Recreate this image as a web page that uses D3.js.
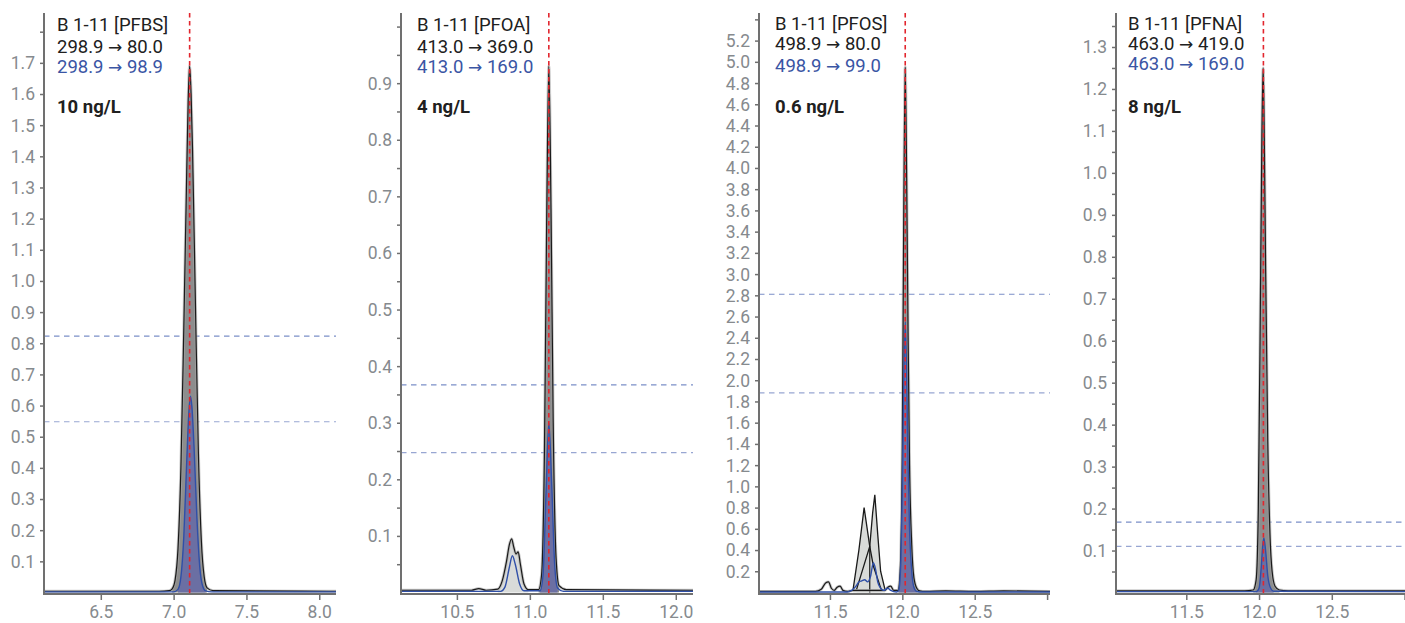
<!DOCTYPE html>
<html>
<head>
<meta charset="utf-8">
<script src="https://cdn.jsdelivr.net/npm/d3@7"></script>
<style>
body{margin:0;background:#fff;}
text{font-family:Roboto,"Noto Sans",sans-serif;}
</style>
</head>
<body>
<div id="chart-area"></div>
<script>
//main.js

//----- data -----
var sampleNames = ["B 1-11 [PFBS]", "B 1-11 [PFOA]", "B 1-11 [PFOS]", "B 1-11 [PFNA]"];
var quantIons = [["298.9", "80.0"], ["413.0", "369.0"], ["498.9", "80.0"], ["463.0", "419.0"]];
var qualIons = [["298.9", "98.9"], ["413.0", "169.0"], ["498.9", "99.0"], ["463.0", "169.0"]];
var levels = ["10 ng/L", "4 ng/L", "0.6 ng/L", "8 ng/L"];
var retTimes = [7.11, 11.13, 12.02, 12.03]; //expected RT (red dashed)
var ratioLimits = [[0.823, 0.548], [0.367, 0.247], [2.81, 1.88], [0.1675, 0.110]]; //qualifier ratio window

//x / y domains (minutes, counts x10^n)
var xDomains = [[6.11, 8.115], [10.117, 12.118], [11.01, 13.02], [11.017, 13.003]];
var yMaxes = [1.86, 1.024, 5.46, 1.381];

//tick values and labels
var xTicks = [[6.5, 7.0, 7.5, 8.0], [10.5, 11.0, 11.5, 12.0], [11.5, 12.0, 12.5, 13.0], [11.5, 12.0, 12.5, 13.0]];
var xLabels = [[6.5, 7.0, 7.5, 8.0], [10.5, 11.0, 11.5, 12.0], [11.5, 12.0, 12.5], [11.5, 12.0, 12.5]];
var yTickSteps = [0.1, 0.05, 0.2, 0.05];
var yTickTops = [1.8, 1.0, 5.4, 1.35];
var yLabels = [
    [0.1, 0.2, 0.3, 0.4, 0.5, 0.6, 0.7, 0.8, 0.9, 1.0, 1.1, 1.2, 1.3, 1.4, 1.5, 1.6, 1.7],
    [0.1, 0.2, 0.3, 0.4, 0.5, 0.6, 0.7, 0.8, 0.9],
    [0.2, 0.4, 0.6, 0.8, 1.0, 1.2, 1.4, 1.6, 1.8, 2.0, 2.2, 2.4, 2.6, 2.8, 3.0, 3.2, 3.4, 3.6, 3.8, 4.0, 4.2, 4.4, 4.6, 4.8, 5.0, 5.2],
    [0.1, 0.2, 0.3, 0.4, 0.5, 0.6, 0.7, 0.8, 0.9, 1.0, 1.1, 1.2, 1.3]
];

//quantifier traces [rt, intensity]
var pfbsQuant = [[6.11,0.004],[6.90,0.004],[6.97,0.006],[6.99,0.012],[7.01,0.04],[7.03,0.14],[7.05,0.40],[7.07,0.85],[7.09,1.35],[7.10,1.58],[7.11,1.69],[7.12,1.60],[7.13,1.42],[7.15,0.92],[7.17,0.45],[7.19,0.17],[7.21,0.05],[7.23,0.015],[7.27,0.006],[8.115,0.004]];
var pfoaQuant = [[10.117,0.004],[10.60,0.004],[10.65,0.007],[10.70,0.004],[10.78,0.006],[10.81,0.02],[10.84,0.055],[10.86,0.085],[10.875,0.095],[10.89,0.08],[10.905,0.068],[10.92,0.072],[10.935,0.05],[10.96,0.015],[10.99,0.005],[11.06,0.005],[11.08,0.03],[11.10,0.25],[11.115,0.65],[11.13,0.93],[11.145,0.68],[11.16,0.3],[11.18,0.06],[11.20,0.012],[11.25,0.005],[12.118,0.004]];
var pfosQuant = [[11.01,0.01],[11.40,0.01],[11.44,0.03],[11.47,0.09],[11.49,0.10],[11.51,0.04],[11.53,0.02],[11.55,0.05],[11.57,0.06],[11.59,0.02],[11.62,0.01],[11.66,0.02],[11.88,0.02],[11.90,0.05],[11.92,0.06],[11.94,0.02],[11.97,0.02],[11.985,0.2],[12.00,1.4],[12.01,3.6],[12.02,4.95],[12.03,3.9],[12.04,2.4],[12.05,1.2],[12.065,0.45],[12.08,0.14],[12.10,0.04],[12.12,0.015],[12.16,0.01],[12.3,0.015],[12.5,0.01],[12.7,0.015],[13.02,0.01]];
var pfnaQuant = [[11.017,0.004],[11.90,0.004],[11.96,0.006],[11.98,0.03],[11.995,0.2],[12.01,0.72],[12.02,1.1],[12.028,1.25],[12.035,1.12],[12.045,0.78],[12.06,0.36],[12.075,0.14],[12.09,0.05],[12.11,0.015],[12.14,0.006],[12.2,0.004],[13.003,0.004]];

//qualifier traces
var pfbsQual = [[6.11,0.002],[7.00,0.002],[7.03,0.01],[7.05,0.05],[7.07,0.18],[7.09,0.42],[7.105,0.58],[7.115,0.63],[7.125,0.60],[7.14,0.47],[7.16,0.24],[7.18,0.08],[7.20,0.02],[7.22,0.005],[7.26,0.002],[8.115,0.002]];
var pfoaQual = [[10.117,0.002],[10.80,0.002],[10.83,0.01],[10.86,0.045],[10.88,0.065],[10.90,0.05],[10.93,0.015],[10.96,0.003],[11.07,0.003],[11.09,0.03],[11.11,0.17],[11.13,0.30],[11.15,0.19],[11.17,0.05],[11.19,0.008],[11.23,0.002],[12.118,0.002]];
var pfosQual = [[11.01,0.005],[11.62,0.005],[11.65,0.02],[11.68,0.06],[11.70,0.10],[11.72,0.11],[11.74,0.12],[11.76,0.10],[11.78,0.15],[11.80,0.28],[11.815,0.22],[11.83,0.10],[11.85,0.04],[11.87,0.02],[11.90,0.04],[11.92,0.02],[11.96,0.005],[11.975,0.02],[11.99,0.3],[12.00,0.95],[12.01,2.0],[12.02,2.55],[12.03,2.05],[12.04,1.2],[12.05,0.6],[12.065,0.2],[12.08,0.05],[12.10,0.01],[12.14,0.005],[13.02,0.005]];
var pfnaQual = [[11.017,0.002],[11.98,0.002],[12.00,0.01],[12.015,0.06],[12.025,0.11],[12.033,0.13],[12.045,0.10],[12.06,0.04],[12.08,0.01],[12.10,0.003],[13.003,0.002]];

//branched PFOS isomers (integrated separately)
var pfosBranchA = [[11.66,0.03],[11.70,0.40],[11.72,0.62],[11.736,0.80],[11.775,0.435],[11.80,0.25],[11.856,0.02]];
var pfosBranchB = [[11.684,0.03],[11.775,0.435],[11.795,0.75],[11.81,0.92],[11.83,0.55],[11.85,0.2],[11.88,0.03]];
var pfosDrop = [11.775, 0.435];

var quantTraces = [pfbsQuant, pfoaQuant, pfosQuant, pfnaQuant];
var qualTraces = [pfbsQual, pfoaQual, pfosQual, pfnaQual];

//integration windows [start, end, type]
var quantWindows = [[[6.99, 7.23, "main"]], [[10.78, 10.99, "minor"], [11.06, 11.20, "main"]], [[11.97, 12.12, "main"]], [[11.96, 12.14, "main"]]];
var qualWindows = [[[7.03, 7.22]], [[11.07, 11.19]], [[11.975, 12.10]], [[11.98, 12.10]]];

//----- layout -----
var W = 1405, H = 623,
    plotTop = 13, zeroY = 592.5; //"top" is taken by window.top
var panelX = [[44, 336], [401, 693], [759, 1050], [1116, 1405]];
var textX = [57, 417, 775, 1128];
var textY = [[31, 52.5, 73], [31, 52.5, 73], [30, 50, 71.5], [29.5, 50, 70]];

var colors = {
    axis: "#707070", tick: "#868a8e", text: "#202020", blue: "#3a55a4",
    mainFill: "#8d8d8d", minorFill: "#d9dbd9", qualFill: "#6b6fa3",
    qualLine: "#2f4fa8", red: "#e2262e", ratioUp: "#7b8fc8", ratioLo: "#98a6d2"
};

var svg = d3.select("#chart-area")
    .append("svg")
        .attr("width", W)
        .attr("height", H);

var fmt = d3.format(".1f");

//draw each chromatogram
for (var i = 0; i < 4; i++) drawPanel(i);

function drawPanel(i) {
    var g = svg.append("g");
    var x = d3.scaleLinear().domain(xDomains[i]).range(panelX[i]);
    var y = d3.scaleLinear().domain([0, yMaxes[i]]).range([zeroY, plotTop]);

    var line = d3.line().x(d => x(d[0])).y(d => y(d[1])).curve(d3.curveMonotoneX);
    var area = d3.area().x(d => x(d[0])).y0(y(0)).y1(d => y(d[1])).curve(d3.curveMonotoneX);
    var lineLin = d3.line().x(d => x(d[0])).y(d => y(d[1]));
    var areaLin = d3.area().x(d => x(d[0])).y0(y(0)).y1(d => y(d[1]));

    function inWin(pts, w) { return pts.filter(p => p[0] >= w[0] - 1e-9 && p[0] <= w[1] + 1e-9); }

    //ratio limit dashed lines
    ratioLimits[i].forEach((v, k) => {
        g.append("line")
            .attr("x1", panelX[i][0]).attr("x2", panelX[i][1])
            .attr("y1", y(v)).attr("y2", y(v))
            .attr("stroke", k == 0 ? colors.ratioUp : colors.ratioLo)
            .attr("stroke-width", 1.2)
            .attr("stroke-dasharray", "5.5,4.5");
    });

    //quantifier fills
    quantWindows[i].forEach(w => {
        g.append("path")
            .attr("d", area(inWin(quantTraces[i], w)))
            .attr("fill", w[2] == "main" ? colors.mainFill : colors.minorFill);
    });

    //branched isomers (PFOS)
    if (i == 2) {
        [pfosBranchA, pfosBranchB].forEach(b => {
            g.append("path").attr("d", areaLin(b)).attr("fill", colors.minorFill);
        });
        [pfosBranchA, pfosBranchB].forEach(b => {
            g.append("path").attr("d", lineLin(b))
                .attr("fill", "none").attr("stroke", "#1a1a1a").attr("stroke-width", 1.3);
        });
        g.append("line")
            .attr("x1", x(pfosDrop[0])).attr("x2", x(pfosDrop[0]))
            .attr("y1", y(0)).attr("y2", y(pfosDrop[1]))
            .attr("stroke", "#1a1a1a").attr("stroke-width", 1.2);
    }

    //quantifier line (halo + black)
    g.append("path").attr("d", line(quantTraces[i]))
        .attr("fill", "none").attr("stroke", "#a8a8a8").attr("stroke-width", 3).attr("stroke-opacity", 0.6);
    g.append("path").attr("d", line(quantTraces[i]))
        .attr("fill", "none").attr("stroke", "#1a1a1a").attr("stroke-width", 1.2);

    //qualifier fill + line
    qualWindows[i].forEach(w => {
        g.append("path")
            .attr("d", area(inWin(qualTraces[i], w)))
            .attr("fill", colors.qualFill);
    });
    g.append("path").attr("d", line(qualTraces[i]))
        .attr("fill", "none").attr("stroke", colors.qualLine).attr("stroke-width", 1.4);

    //expected retention time
    g.append("line")
        .attr("x1", x(retTimes[i])).attr("x2", x(retTimes[i]))
        .attr("y1", plotTop).attr("y2", zeroY + 1)
        .attr("stroke", colors.red)
        .attr("stroke-width", 1.6)
        .attr("stroke-dasharray", "4.5,3.5");

    //y axis
    var yTickVals = d3.range(yTickSteps[i], yTickTops[i] + 1e-6, yTickSteps[i]);
    var yAxis = d3.axisLeft(y)
        .tickValues(yTickVals)
        .tickSize(4)
        .tickPadding(5)
        .tickSizeOuter(0)
        .tickFormat(v => yLabels[i].some(l => Math.abs(l - v) < 1e-6) ? fmt(v) : "");
    var ya = g.append("g")
        .attr("transform", "translate(" + panelX[i][0] + ",0)")
        .call(yAxis);

    //x axis
    var xAxis = d3.axisBottom(x)
        .tickValues(xTicks[i])
        .tickSize(6)
        .tickPadding(6)
        .tickSizeOuter(0)
        .tickFormat(v => xLabels[i].some(l => Math.abs(l - v) < 1e-6) ? fmt(v) : "");
    var xa = g.append("g")
        .attr("transform", "translate(0," + (zeroY + 1.5) + ")")
        .call(xAxis);

    [ya, xa].forEach(a => {
        a.select(".domain").remove();
        a.selectAll(".tick line").attr("stroke", colors.axis).attr("stroke-width", 1.5);
        a.selectAll(".tick text")
            .attr("fill", colors.tick)
            .style("font-family", "Roboto")
            .style("font-size", "17.5px");
    });
    ya.selectAll(".tick text").attr("dy", "0.34em");
    xa.selectAll(".tick text").attr("dy", "0.68em");

    //axis lines
    g.append("line")
        .attr("x1", panelX[i][0]).attr("x2", panelX[i][0])
        .attr("y1", plotTop).attr("y2", zeroY + 2.5)
        .attr("stroke", colors.axis).attr("stroke-width", 2);
    g.append("line")
        .attr("x1", panelX[i][0]).attr("x2", panelX[i][1])
        .attr("y1", zeroY + 1.5).attr("y2", zeroY + 1.5)
        .attr("stroke", colors.axis).attr("stroke-width", 2);

    //labels
    g.append("text")
        .attr("x", textX[i]).attr("y", textY[i][0])
        .attr("fill", colors.text)
        .style("font-size", "18.5px")
        .text(sampleNames[i]);
    [[quantIons[i], colors.text], [qualIons[i], colors.blue]].forEach((l, k) => {
        var t = g.append("text")
            .attr("x", textX[i]).attr("y", textY[i][k + 1])
            .attr("fill", l[1])
            .style("font-size", "18.5px");
        t.append("tspan").text(l[0][0] + " ");
        t.append("tspan").style("font-family", "'DejaVu Sans'").style("font-size", "17px").text("\u2192");
        t.append("tspan").text(" " + l[0][1]);
    });
    g.append("text")
        .attr("x", textX[i]).attr("y", 113)
        .attr("fill", colors.text)
        .style("font-size", "18.5px")
        .style("font-weight", "bold")
        .text(levels[i]);
}
</script>
</body>
</html>
